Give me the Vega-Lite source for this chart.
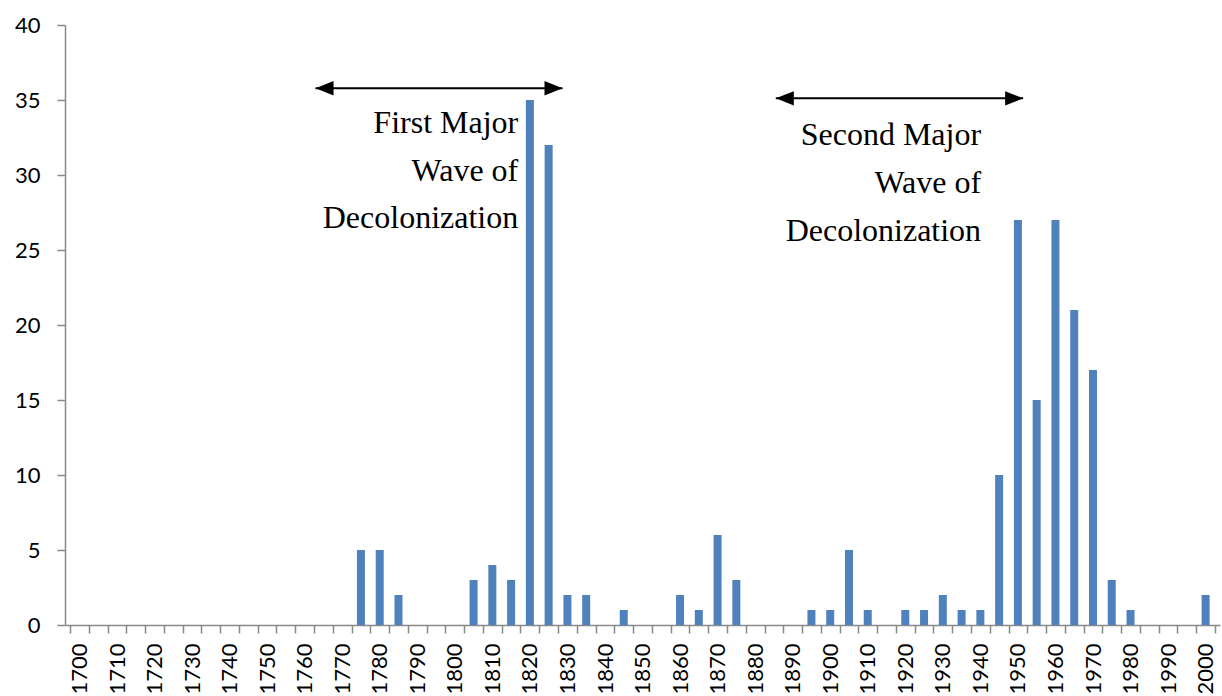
{
  "$schema": "https://vega.github.io/schema/vega-lite/v6.json",
  "autosize": "none",
  "width": 1155,
  "height": 600,
  "padding": {"left": 65, "top": 25, "right": 2, "bottom": 71},
  "background": "white",
  "config": {"view": {"stroke": null}},
  "layer": [
    {
      "data": {"values": [
        {"year": 1775, "count": 5}, {"year": 1780, "count": 5}, {"year": 1785, "count": 2},
        {"year": 1805, "count": 3}, {"year": 1810, "count": 4}, {"year": 1815, "count": 3},
        {"year": 1820, "count": 35}, {"year": 1825, "count": 32}, {"year": 1830, "count": 2},
        {"year": 1835, "count": 2}, {"year": 1845, "count": 1}, {"year": 1860, "count": 2},
        {"year": 1865, "count": 1}, {"year": 1870, "count": 6}, {"year": 1875, "count": 3},
        {"year": 1895, "count": 1}, {"year": 1900, "count": 1}, {"year": 1905, "count": 5},
        {"year": 1910, "count": 1}, {"year": 1920, "count": 1}, {"year": 1925, "count": 1},
        {"year": 1930, "count": 2}, {"year": 1935, "count": 1}, {"year": 1940, "count": 1},
        {"year": 1945, "count": 10}, {"year": 1950, "count": 27}, {"year": 1955, "count": 15},
        {"year": 1960, "count": 27}, {"year": 1965, "count": 21}, {"year": 1970, "count": 17},
        {"year": 1975, "count": 3}, {"year": 1980, "count": 1}, {"year": 2000, "count": 2}
      ]},
      "mark": {"type": "bar", "color": "#4F81BD", "size": 8},
      "encoding": {
        "x": {
          "field": "year", "type": "quantitative",
          "scale": {"domain": [1697.5, 2002.5], "nice": false, "zero": false},
          "axis": {
            "title": null, "grid": false,
            "values": [1697.5,1702.5,1707.5,1712.5,1717.5,1722.5,1727.5,1732.5,1737.5,1742.5,1747.5,1752.5,1757.5,1762.5,1767.5,1772.5,1777.5,1782.5,1787.5,1792.5,1797.5,1802.5,1807.5,1812.5,1817.5,1822.5,1827.5,1832.5,1837.5,1842.5,1847.5,1852.5,1857.5,1862.5,1867.5,1872.5,1877.5,1882.5,1887.5,1892.5,1897.5,1902.5,1907.5,1912.5,1917.5,1922.5,1927.5,1932.5,1937.5,1942.5,1947.5,1952.5,1957.5,1962.5,1967.5,1972.5,1977.5,1982.5,1987.5,1992.5,1997.5,2002.5],
            "labelExpr": "(datum.value + 2.5) % 10 === 0 ? '' + (datum.value + 2.5) : ''",
            "labelOffset": 9.47, "labelAngle": 270, "labelAlign": "right", "labelBaseline": "middle",
            "labelOverlap": false, "labelFlush": false, "labelPadding": 10,
            "labelFont": "Lato", "labelFontSize": 22, "labelColor": "#000000",
            "domainColor": "#898989", "domainWidth": 1.5, "tickColor": "#898989", "tickWidth": 1.5, "tickSize": 8
          }
        },
        "y": {
          "field": "count", "type": "quantitative",
          "scale": {"domain": [0, 40], "nice": false},
          "axis": {
            "title": null, "grid": false, "values": [0, 5, 10, 15, 20, 25, 30, 35, 40], "labelPadding": 17,
            "labelFont": "Lato", "labelFontSize": 22, "labelColor": "#000000",
            "domainColor": "#898989", "domainWidth": 1.5, "tickColor": "#898989", "tickWidth": 1.5, "tickSize": 8
          }
        }
      }
    },
    {
      "data": {"values": [
        {"wave": "First", "start": 1762.9, "end": 1828.7, "level": 35.78},
        {"wave": "Second", "start": 1885.5, "end": 1951.4, "level": 35.11}
      ]},
      "mark": {"type": "rule", "color": "#000000", "strokeWidth": 2},
      "encoding": {
        "x": {
          "field": "start", "type": "quantitative",
          "axis": {
            "title": null, "grid": false,
            "values": [1697.5,1702.5,1707.5,1712.5,1717.5,1722.5,1727.5,1732.5,1737.5,1742.5,1747.5,1752.5,1757.5,1762.5,1767.5,1772.5,1777.5,1782.5,1787.5,1792.5,1797.5,1802.5,1807.5,1812.5,1817.5,1822.5,1827.5,1832.5,1837.5,1842.5,1847.5,1852.5,1857.5,1862.5,1867.5,1872.5,1877.5,1882.5,1887.5,1892.5,1897.5,1902.5,1907.5,1912.5,1917.5,1922.5,1927.5,1932.5,1937.5,1942.5,1947.5,1952.5,1957.5,1962.5,1967.5,1972.5,1977.5,1982.5,1987.5,1992.5,1997.5,2002.5],
            "labelExpr": "(datum.value + 2.5) % 10 === 0 ? '' + (datum.value + 2.5) : ''",
            "labelOffset": 9.47, "labelAngle": 270, "labelAlign": "right", "labelBaseline": "middle",
            "labelOverlap": false, "labelFlush": false, "labelPadding": 10,
            "labelFont": "Lato", "labelFontSize": 22, "labelColor": "#000000",
            "domainColor": "#898989", "domainWidth": 1.5, "tickColor": "#898989", "tickWidth": 1.5, "tickSize": 8
          }
        },
        "x2": {"field": "end"},
        "y": {
          "field": "level", "type": "quantitative",
          "axis": {
            "title": null, "grid": false, "values": [0, 5, 10, 15, 20, 25, 30, 35, 40], "labelPadding": 17,
            "labelFont": "Lato", "labelFontSize": 22, "labelColor": "#000000",
            "domainColor": "#898989", "domainWidth": 1.5, "tickColor": "#898989", "tickWidth": 1.5, "tickSize": 8
          }
        }
      }
    },
    {
      "data": {"values": [
        {"pos": 1762.9, "level": 35.78, "dir": "left"},
        {"pos": 1828.7, "level": 35.78, "dir": "right"},
        {"pos": 1885.5, "level": 35.11, "dir": "left"},
        {"pos": 1951.4, "level": 35.11, "dir": "right"}
      ]},
      "mark": {"type": "point", "filled": true, "color": "#000000", "opacity": 1, "size": 1300, "strokeWidth": 0},
      "encoding": {
        "x": {
          "field": "pos", "type": "quantitative",
          "axis": {
            "title": null, "grid": false,
            "values": [1697.5,1702.5,1707.5,1712.5,1717.5,1722.5,1727.5,1732.5,1737.5,1742.5,1747.5,1752.5,1757.5,1762.5,1767.5,1772.5,1777.5,1782.5,1787.5,1792.5,1797.5,1802.5,1807.5,1812.5,1817.5,1822.5,1827.5,1832.5,1837.5,1842.5,1847.5,1852.5,1857.5,1862.5,1867.5,1872.5,1877.5,1882.5,1887.5,1892.5,1897.5,1902.5,1907.5,1912.5,1917.5,1922.5,1927.5,1932.5,1937.5,1942.5,1947.5,1952.5,1957.5,1962.5,1967.5,1972.5,1977.5,1982.5,1987.5,1992.5,1997.5,2002.5],
            "labelExpr": "(datum.value + 2.5) % 10 === 0 ? '' + (datum.value + 2.5) : ''",
            "labelOffset": 9.47, "labelAngle": 270, "labelAlign": "right", "labelBaseline": "middle",
            "labelOverlap": false, "labelFlush": false, "labelPadding": 10,
            "labelFont": "Lato", "labelFontSize": 22, "labelColor": "#000000",
            "domainColor": "#898989", "domainWidth": 1.5, "tickColor": "#898989", "tickWidth": 1.5, "tickSize": 8
          }
        },
        "y": {
          "field": "level", "type": "quantitative",
          "axis": {
            "title": null, "grid": false, "values": [0, 5, 10, 15, 20, 25, 30, 35, 40], "labelPadding": 17,
            "labelFont": "Lato", "labelFontSize": 22, "labelColor": "#000000",
            "domainColor": "#898989", "domainWidth": 1.5, "tickColor": "#898989", "tickWidth": 1.5, "tickSize": 8
          }
        },
        "shape": {
          "field": "dir", "type": "nominal", "legend": null,
          "scale": {"domain": ["left", "right"], "range": ["M0,0L1,-0.4L1,0.4Z", "M0,0L-1,-0.4L-1,0.4Z"]}
        }
      }
    },
    {
      "data": {"values": [
        {"line": "First Major", "pos": 1816.9, "level": 32.8},
        {"line": "Wave of", "pos": 1816.9, "level": 29.6},
        {"line": "Decolonization", "pos": 1816.9, "level": 26.47},
        {"line": "Second Major", "pos": 1940.2, "level": 32.0},
        {"line": "Wave of", "pos": 1940.2, "level": 28.8},
        {"line": "Decolonization", "pos": 1940.2, "level": 25.6}
      ]},
      "mark": {"type": "text", "align": "right", "baseline": "alphabetic", "font": "Liberation Serif", "fontSize": 32, "color": "#000000"},
      "encoding": {
        "x": {
          "field": "pos", "type": "quantitative",
          "axis": {
            "title": null, "grid": false,
            "values": [1697.5,1702.5,1707.5,1712.5,1717.5,1722.5,1727.5,1732.5,1737.5,1742.5,1747.5,1752.5,1757.5,1762.5,1767.5,1772.5,1777.5,1782.5,1787.5,1792.5,1797.5,1802.5,1807.5,1812.5,1817.5,1822.5,1827.5,1832.5,1837.5,1842.5,1847.5,1852.5,1857.5,1862.5,1867.5,1872.5,1877.5,1882.5,1887.5,1892.5,1897.5,1902.5,1907.5,1912.5,1917.5,1922.5,1927.5,1932.5,1937.5,1942.5,1947.5,1952.5,1957.5,1962.5,1967.5,1972.5,1977.5,1982.5,1987.5,1992.5,1997.5,2002.5],
            "labelExpr": "(datum.value + 2.5) % 10 === 0 ? '' + (datum.value + 2.5) : ''",
            "labelOffset": 9.47, "labelAngle": 270, "labelAlign": "right", "labelBaseline": "middle",
            "labelOverlap": false, "labelFlush": false, "labelPadding": 10,
            "labelFont": "Lato", "labelFontSize": 22, "labelColor": "#000000",
            "domainColor": "#898989", "domainWidth": 1.5, "tickColor": "#898989", "tickWidth": 1.5, "tickSize": 8
          }
        },
        "y": {
          "field": "level", "type": "quantitative",
          "axis": {
            "title": null, "grid": false, "values": [0, 5, 10, 15, 20, 25, 30, 35, 40], "labelPadding": 17,
            "labelFont": "Lato", "labelFontSize": 22, "labelColor": "#000000",
            "domainColor": "#898989", "domainWidth": 1.5, "tickColor": "#898989", "tickWidth": 1.5, "tickSize": 8
          }
        },
        "text": {"field": "line", "type": "nominal"}
      }
    }
  ]
}
